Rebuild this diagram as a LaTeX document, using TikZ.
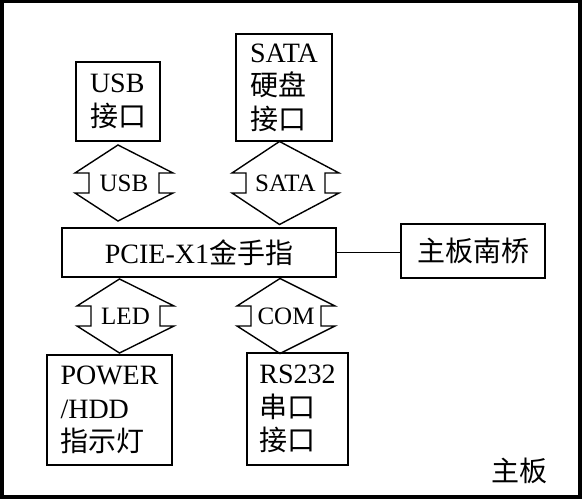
\documentclass[tikz,border=0pt]{standalone}
\usepackage{fontspec}
\setmainfont{Liberation Serif}
\newfontfamily\cjk{Noto Sans CJK SC}

% double headed bus arrow: name, centre x, centre y, half width, half height, label
\newcommand{\bus}[6]{%
	\node[buslabel] (#1) at (#2,#3) {#6};
	\draw[busline] (#2-6,#3-#5)--(#2+#4,#3-10)--++(-14,0)--++(0,20)--++(14,0)--(#2-6,#3+#5)
		--(#2-#4,#3+10)--++(14,0)--++(0,-20)--++(-14,0)--cycle;
}

\begin{document}
\begin{tikzpicture}[x=1pt,y=-1pt,
		box/.style={draw,line width=1.6pt,align=left,inner sep=0pt,font=\fontsize{28}{33.5}\selectfont},
		buslabel/.style={inner sep=0pt,font=\fontsize{25}{25}\selectfont},
		busline/.style={line width=1.4pt,line join=miter}]
	\useasboundingbox (0,0) rectangle (583,500);
	\draw[line width=3.5pt] (1.75,1.75) rectangle (580,497);
	%
	\node[box,minimum width=84pt,minimum height=79pt] (usb) at (118,101.5) {USB\\{\cjk 接口}};
	\node[box,minimum width=96pt,minimum height=107pt] (sata) at (284,87.5) {SATA\\{\cjk 硬盘}\\{\cjk 接口}};
	\node[box,minimum width=274pt,minimum height=49pt] (pcie) at (199,252.5) {PCIE-X1{\cjk 金手指}};
	\node[box,minimum width=144pt,minimum height=54pt] (nanqiao) at (473,251) {{\cjk 主板南桥}};
	\node[box,minimum width=125pt,minimum height=110pt] (power) at (109.5,410) {POWER\\/HDD\\{\cjk 指示灯}};
	\node[box,minimum width=101pt,minimum height=112pt] (rs) at (297.5,409) {RS232\\{\cjk 串口}\\{\cjk 接口}};
	\node[font=\fontsize{28}{28}\selectfont] (board) at (519.5,471) {\cjk 主板};
	%
	\draw[line width=1.6pt] (pcie.east)--(pcie.east -| nanqiao.west);
	%
	\bus{bususb}{124}{183}{49}{38}{USB}
	\bus{bussata}{285.5}{183}{53.5}{41.5}{SATA}
	\bus{busled}{125.5}{316}{48.5}{37}{LED}
	\bus{buscom}{286}{316}{49}{37.5}{COM}
\end{tikzpicture}
\end{document}
